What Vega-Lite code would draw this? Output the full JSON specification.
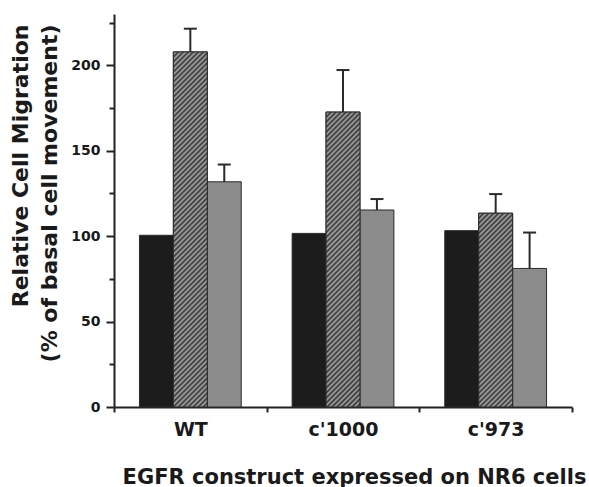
{
  "$schema": "https://vega.github.io/schema/vega-lite/v6.json",
  "autosize": "none",
  "padding": {"left": 114, "top": 14, "right": 17, "bottom": 80},
  "width": 458,
  "height": 393,
  "background": "white",
  "config": {"view": {"stroke": null}},
  "params": [{"name": "hs", "value": [
    {"offset":0,"color":"#333333"},{"offset":0.00625,"color":"#a8a8a8"},{"offset":0.0125,"color":"#333333"},{"offset":0.01875,"color":"#a8a8a8"},{"offset":0.025,"color":"#333333"},{"offset":0.03125,"color":"#a8a8a8"},{"offset":0.0375,"color":"#333333"},{"offset":0.04375,"color":"#a8a8a8"},
    {"offset":0.05,"color":"#333333"},{"offset":0.05625,"color":"#a8a8a8"},{"offset":0.0625,"color":"#333333"},{"offset":0.06875,"color":"#a8a8a8"},{"offset":0.075,"color":"#333333"},{"offset":0.08125,"color":"#a8a8a8"},{"offset":0.0875,"color":"#333333"},{"offset":0.09375,"color":"#a8a8a8"},
    {"offset":0.1,"color":"#333333"},{"offset":0.10625,"color":"#a8a8a8"},{"offset":0.1125,"color":"#333333"},{"offset":0.11875,"color":"#a8a8a8"},{"offset":0.125,"color":"#333333"},{"offset":0.13125,"color":"#a8a8a8"},{"offset":0.1375,"color":"#333333"},{"offset":0.14375,"color":"#a8a8a8"},
    {"offset":0.15,"color":"#333333"},{"offset":0.15625,"color":"#a8a8a8"},{"offset":0.1625,"color":"#333333"},{"offset":0.16875,"color":"#a8a8a8"},{"offset":0.175,"color":"#333333"},{"offset":0.18125,"color":"#a8a8a8"},{"offset":0.1875,"color":"#333333"},{"offset":0.19375,"color":"#a8a8a8"},
    {"offset":0.2,"color":"#333333"},{"offset":0.20625,"color":"#a8a8a8"},{"offset":0.2125,"color":"#333333"},{"offset":0.21875,"color":"#a8a8a8"},{"offset":0.225,"color":"#333333"},{"offset":0.23125,"color":"#a8a8a8"},{"offset":0.2375,"color":"#333333"},{"offset":0.24375,"color":"#a8a8a8"},
    {"offset":0.25,"color":"#333333"},{"offset":0.25625,"color":"#a8a8a8"},{"offset":0.2625,"color":"#333333"},{"offset":0.26875,"color":"#a8a8a8"},{"offset":0.275,"color":"#333333"},{"offset":0.28125,"color":"#a8a8a8"},{"offset":0.2875,"color":"#333333"},{"offset":0.29375,"color":"#a8a8a8"},
    {"offset":0.3,"color":"#333333"},{"offset":0.30625,"color":"#a8a8a8"},{"offset":0.3125,"color":"#333333"},{"offset":0.31875,"color":"#a8a8a8"},{"offset":0.325,"color":"#333333"},{"offset":0.33125,"color":"#a8a8a8"},{"offset":0.3375,"color":"#333333"},{"offset":0.34375,"color":"#a8a8a8"},
    {"offset":0.35,"color":"#333333"},{"offset":0.35625,"color":"#a8a8a8"},{"offset":0.3625,"color":"#333333"},{"offset":0.36875,"color":"#a8a8a8"},{"offset":0.375,"color":"#333333"},{"offset":0.38125,"color":"#a8a8a8"},{"offset":0.3875,"color":"#333333"},{"offset":0.39375,"color":"#a8a8a8"},
    {"offset":0.4,"color":"#333333"},{"offset":0.40625,"color":"#a8a8a8"},{"offset":0.4125,"color":"#333333"},{"offset":0.41875,"color":"#a8a8a8"},{"offset":0.425,"color":"#333333"},{"offset":0.43125,"color":"#a8a8a8"},{"offset":0.4375,"color":"#333333"},{"offset":0.44375,"color":"#a8a8a8"},
    {"offset":0.45,"color":"#333333"},{"offset":0.45625,"color":"#a8a8a8"},{"offset":0.4625,"color":"#333333"},{"offset":0.46875,"color":"#a8a8a8"},{"offset":0.475,"color":"#333333"},{"offset":0.48125,"color":"#a8a8a8"},{"offset":0.4875,"color":"#333333"},{"offset":0.49375,"color":"#a8a8a8"},
    {"offset":0.5,"color":"#333333"},{"offset":0.50625,"color":"#a8a8a8"},{"offset":0.5125,"color":"#333333"},{"offset":0.51875,"color":"#a8a8a8"},{"offset":0.525,"color":"#333333"},{"offset":0.53125,"color":"#a8a8a8"},{"offset":0.5375,"color":"#333333"},{"offset":0.54375,"color":"#a8a8a8"},
    {"offset":0.55,"color":"#333333"},{"offset":0.55625,"color":"#a8a8a8"},{"offset":0.5625,"color":"#333333"},{"offset":0.56875,"color":"#a8a8a8"},{"offset":0.575,"color":"#333333"},{"offset":0.58125,"color":"#a8a8a8"},{"offset":0.5875,"color":"#333333"},{"offset":0.59375,"color":"#a8a8a8"},
    {"offset":0.6,"color":"#333333"},{"offset":0.60625,"color":"#a8a8a8"},{"offset":0.6125,"color":"#333333"},{"offset":0.61875,"color":"#a8a8a8"},{"offset":0.625,"color":"#333333"},{"offset":0.63125,"color":"#a8a8a8"},{"offset":0.6375,"color":"#333333"},{"offset":0.64375,"color":"#a8a8a8"},
    {"offset":0.65,"color":"#333333"},{"offset":0.65625,"color":"#a8a8a8"},{"offset":0.6625,"color":"#333333"},{"offset":0.66875,"color":"#a8a8a8"},{"offset":0.675,"color":"#333333"},{"offset":0.68125,"color":"#a8a8a8"},{"offset":0.6875,"color":"#333333"},{"offset":0.69375,"color":"#a8a8a8"},
    {"offset":0.7,"color":"#333333"},{"offset":0.70625,"color":"#a8a8a8"},{"offset":0.7125,"color":"#333333"},{"offset":0.71875,"color":"#a8a8a8"},{"offset":0.725,"color":"#333333"},{"offset":0.73125,"color":"#a8a8a8"},{"offset":0.7375,"color":"#333333"},{"offset":0.74375,"color":"#a8a8a8"},
    {"offset":0.75,"color":"#333333"},{"offset":0.75625,"color":"#a8a8a8"},{"offset":0.7625,"color":"#333333"},{"offset":0.76875,"color":"#a8a8a8"},{"offset":0.775,"color":"#333333"},{"offset":0.78125,"color":"#a8a8a8"},{"offset":0.7875,"color":"#333333"},{"offset":0.79375,"color":"#a8a8a8"},
    {"offset":0.8,"color":"#333333"},{"offset":0.80625,"color":"#a8a8a8"},{"offset":0.8125,"color":"#333333"},{"offset":0.81875,"color":"#a8a8a8"},{"offset":0.825,"color":"#333333"},{"offset":0.83125,"color":"#a8a8a8"},{"offset":0.8375,"color":"#333333"},{"offset":0.84375,"color":"#a8a8a8"},
    {"offset":0.85,"color":"#333333"},{"offset":0.85625,"color":"#a8a8a8"},{"offset":0.8625,"color":"#333333"},{"offset":0.86875,"color":"#a8a8a8"},{"offset":0.875,"color":"#333333"},{"offset":0.88125,"color":"#a8a8a8"},{"offset":0.8875,"color":"#333333"},{"offset":0.89375,"color":"#a8a8a8"},
    {"offset":0.9,"color":"#333333"},{"offset":0.90625,"color":"#a8a8a8"},{"offset":0.9125,"color":"#333333"},{"offset":0.91875,"color":"#a8a8a8"},{"offset":0.925,"color":"#333333"},{"offset":0.93125,"color":"#a8a8a8"},{"offset":0.9375,"color":"#333333"},{"offset":0.94375,"color":"#a8a8a8"},
    {"offset":0.95,"color":"#333333"},{"offset":0.95625,"color":"#a8a8a8"},{"offset":0.9625,"color":"#333333"},{"offset":0.96875,"color":"#a8a8a8"},{"offset":0.975,"color":"#333333"},{"offset":0.98125,"color":"#a8a8a8"},{"offset":0.9875,"color":"#333333"},{"offset":0.99375,"color":"#a8a8a8"},
    {"offset":1,"color":"#333333"}
  ]}],
  "data": {"values": [
    {"construct": "WT", "condition": "1", "value": 100.5, "upper": null},
    {"construct": "WT", "condition": "2", "value": 207.8, "upper": 221.4},
    {"construct": "WT", "condition": "3", "value": 131.8, "upper": 141.9},
    {"construct": "c'1000", "condition": "1", "value": 101.6, "upper": null},
    {"construct": "c'1000", "condition": "2", "value": 172.6, "upper": 197.2},
    {"construct": "c'1000", "condition": "3", "value": 115.3, "upper": 121.7},
    {"construct": "c'973", "condition": "1", "value": 103.2, "upper": null},
    {"construct": "c'973", "condition": "2", "value": 113.4, "upper": 124.6},
    {"construct": "c'973", "condition": "3", "value": 81.1, "upper": 102.1}
  ]},
  "encoding": {
    "x": {
      "field": "construct", "type": "nominal", "sort": ["WT", "c'1000", "c'973"],
      "scale": {"paddingInner": 0, "paddingOuter": 0},
      "axis": {
        "title": "EGFR construct expressed on NR6 cells",
        "labelAngle": 0, "tickBand": "extent", "tickSize": 5, "tickWidth": 2, "tickColor": "#222",
        "domainColor": "#222", "domainWidth": 2,
        "labelFont": "DejaVu Sans", "labelFontWeight": "bold", "labelFontSize": 19, "labelColor": "#1a1a1a",
        "labelBaseline": "alphabetic", "labelPadding": 23,
        "titleFont": "DejaVu Sans", "titleFontWeight": "bold", "titleFontSize": 21, "titleColor": "#1a1a1a",
        "titleAlign": "center", "titleAnchor": null, "titleBaseline": "alphabetic", "titleX": 240, "titleY": 76
      }
    },
    "xOffset": {"field": "condition", "type": "nominal", "sort": ["1", "2", "3"], "scale": {"paddingInner": 0, "paddingOuter": 0.75}},
    "y": {
      "field": "value", "type": "quantitative",
      "scale": {"domain": [0, 230], "nice": false, "zero": true},
      "axis": {
        "title": ["Relative Cell Migration", "(% of basal cell movement)"],
        "values": [0, 25, 50, 75, 100, 125, 150, 175, 200, 225],
        "labelExpr": "datum.value % 50 === 0 ? datum.label : ''",
        "grid": false, "tickSize": {"condition": {"test": "datum.value % 50 === 0", "value": 8}, "value": 5},
        "tickWidth": 2, "tickColor": "#222", "domainColor": "#222", "domainWidth": 2,
        "labelFont": "DejaVu Sans", "labelFontWeight": "bold", "labelFontSize": 14, "labelColor": "#1a1a1a", "labelPadding": 6,
        "titleFont": "DejaVu Sans", "titleFontWeight": "bold", "titleFontSize": 22, "titleColor": "#1a1a1a",
        "titleAngle": 270, "titleAlign": "right", "titleBaseline": "alphabetic", "titleAnchor": null,
        "titleX": -87, "titleY": 10, "titleLineHeight": 29
      }
    }
  },
  "layer": [
    {
      "mark": {"type": "bar", "stroke": "#2a2a2a", "strokeWidth": 1},
      "encoding": {
        "fill": {"field": "condition", "type": "nominal", "legend": null,
          "scale": {"domain": ["1", "2", "3"], "range": ["#1c1c1c", "#6e6e6e", "#8c8c8c"]}}
      }
    },
    {
      "transform": [{"filter": "datum.construct === 'WT' && datum.condition === '2'"}],
      "mark": {"type": "bar", "stroke": "#2a2a2a", "strokeWidth": 1,
        "fill": {"expr": "{gradient: 'linear', x1: 0, y1: 0, x2: 0.1069, y2: 1.1164, stops: hs}"}}
    },
    {
      "transform": [{"filter": "datum.construct === \"c'1000\" && datum.condition === '2'"}],
      "mark": {"type": "bar", "stroke": "#2a2a2a", "strokeWidth": 1,
        "fill": {"expr": "{gradient: 'linear', x1: 0, y1: 0, x2: 0.1553, y2: 1.3427, stops: hs}"}}
    },
    {
      "transform": [{"filter": "datum.construct === \"c'973\" && datum.condition === '2'"}],
      "mark": {"type": "bar", "stroke": "#2a2a2a", "strokeWidth": 1,
        "fill": {"expr": "{gradient: 'linear', x1: 0, y1: 0, x2: 0.3505, y2: 2.0, stops: hs}"}}
    },
    {
      "transform": [{"filter": "datum.upper != null"}],
      "mark": {"type": "rule", "color": "#2a2a2a", "strokeWidth": 2},
      "encoding": {"y2": {"field": "upper"}}
    },
    {
      "transform": [{"filter": "datum.upper != null"}],
      "mark": {"type": "tick", "color": "#2a2a2a", "size": 13, "thickness": 2, "opacity": 1},
      "encoding": {"y": {"field": "upper", "type": "quantitative"}}
    }
  ]
}
